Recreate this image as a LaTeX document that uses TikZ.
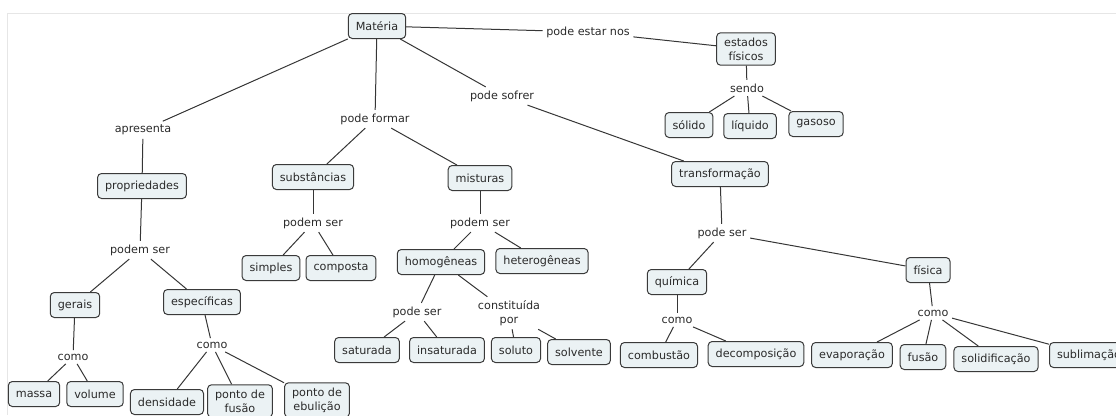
\documentclass[tikz,border=0pt]{standalone}
\usepackage{fontspec}
\setmainfont{DejaVu Sans}
\usetikzlibrary{positioning}
\definecolor{boxfill}{HTML}{EBF2F4}
\definecolor{boxline}{HTML}{3A3A3A}
\definecolor{linkline}{HTML}{363636}
\definecolor{textgray}{HTML}{2A2A2A}
\definecolor{framegray}{HTML}{E6E6E6}
\newcommand{\mapfont}{\fontsize{11.2}{13.8}\selectfont}
\tikzset{
  concept/.style={draw=boxline,fill=boxfill,line width=1pt,rounded corners=4pt,
                  inner xsep=7.5pt,inner ysep=5pt,minimum height=25pt,
                  align=center,font=\mapfont,text=textgray},
  linkword/.style={inner sep=3.5pt,align=center,font=\mapfont,text=textgray},
  link/.style={draw=linkline,line width=1pt}
}

\begin{document}
\begin{tikzpicture}[x=1pt,y=-1pt]
  \useasboundingbox (0,0) rectangle (1116,415);
  \draw[framegray,line width=0.8pt] (1116,13) -- (7,13) -- (7,415);

  % top level
  \node[concept] (mat) at (377,26) {Matéria};
  \node[linkword] (apr) at (143,130) {apresenta};
  \node[linkword] (pfo) at (375,119) {pode formar};
  \node[linkword] (pso) at (502,96) {pode sofrer};
  \node[linkword] (pen) at (588,32) {pode estar nos};

  % estados fisicos
  \node[concept] (est) at (746,49) {estados\\físicos};
  \node[linkword] (sen) at (747,88) {sendo};
  \node[concept] (sol) at (689,125) {sólido};
  \node[concept] (liq) at (750,126) {líquido};
  \node[concept] (gas) at (816,124) {gasoso};

  % propriedades
  \node[concept] (pro) at (142,186) {propriedades};
  \node[linkword] (pse1) at (140,250) {podem ser};
  \node[concept] (ger) at (75,305) {gerais};
  \node[concept] (esp) at (202,302) {específicas};
  \node[linkword] (com1) at (73,357) {como};
  \node[concept] (mas) at (34,394) {massa};
  \node[concept] (vol) at (95,394) {volume};
  \node[linkword] (com2) at (212,345) {como};
  \node[concept] (den) at (167,402) {densidade};
  \node[concept] (pfu) at (240,401) {ponto de\\fusão};
  \node[concept] (peb) at (317,400) {ponto de\\ebulição};

  % substancias
  \node[concept] (sub) at (313,177) {substâncias};
  \node[linkword] (pse2) at (313,223) {podem ser};
  \node[concept] (sim) at (271,268) {simples};
  \node[concept] (cmp) at (341,268) {composta};

  % misturas
  \node[concept] (mis) at (480,178) {misturas};
  \node[linkword] (pse3) at (480,223) {podem ser};
  \node[concept] (hom) at (441,262) {homogêneas};
  \node[concept] (het) at (542,261) {heterogêneas};
  \node[linkword] (pse4) at (417,312) {pode ser};
  \node[linkword] (cpo) at (509,313) {constituída\\por};
  \node[concept] (sat) at (367,350) {saturada};
  \node[concept] (ins) at (447,350) {insaturada};
  \node[concept] (slu) at (516,350) {soluto};
  \node[concept] (slv) at (579,352) {solvente};

  % transformacao
  \node[concept] (tra) at (720,174) {transformação};
  \node[linkword] (pse5) at (722,233) {pode ser};
  \node[concept] (qui) at (677,282) {química};
  \node[concept] (fis) at (928,270) {física};
  \node[linkword] (com3) at (677,320) {como};
  \node[concept] (cbs) at (659,355) {combustão};
  \node[concept] (dec) at (756,354) {decomposição};
  \node[linkword] (com4) at (933,313) {como};
  \node[concept] (eva) at (852,355) {evaporação};
  \node[concept] (fus) at (923,357) {fusão};
  \node[concept] (sdf) at (996,359) {solidificação};
  \node[concept] (sbl) at (1089,355) {sublimação};

  % connectors
  \draw[link] (mat) -- (apr); \draw[link] (apr) -- (pro);
  \draw[link] (mat) -- (pfo); \draw[link] (pfo) -- (sub); \draw[link] (pfo) -- (mis);
  \draw[link] (mat) -- (pso); \draw[link] (pso) -- (tra);
  \draw[link] (mat) -- (pen); \draw[link] (pen) -- (est);
  \draw[link] (est) -- (sen); \draw[link] (sen) -- (sol);
  \draw[link] (sen) -- (liq); \draw[link] (sen) -- (gas);

  \draw[link] (pro) -- (pse1); \draw[link] (pse1) -- (ger); \draw[link] (pse1) -- (esp);
  \draw[link] (ger) -- (com1); \draw[link] (com1) -- (mas); \draw[link] (com1) -- (vol);
  \draw[link] (esp) -- (com2); \draw[link] (com2) -- (den);
  \draw[link] (com2) -- (pfu); \draw[link] (com2) -- (peb);

  \draw[link] (sub) -- (pse2); \draw[link] (pse2) -- (sim); \draw[link] (pse2) -- (cmp);
  \draw[link] (mis) -- (pse3); \draw[link] (pse3) -- (hom); \draw[link] (pse3) -- (het);
  \draw[link] (hom) -- (pse4); \draw[link] (pse4) -- (sat); \draw[link] (pse4) -- (ins);
  \draw[link] (hom) -- (cpo); \draw[link] (cpo) -- (slu); \draw[link] (cpo) -- (slv);

  \draw[link] (tra) -- (pse5); \draw[link] (pse5) -- (qui); \draw[link] (pse5) -- (fis);
  \draw[link] (qui) -- (com3); \draw[link] (com3) -- (cbs); \draw[link] (com3) -- (dec);
  \draw[link] (fis) -- (com4); \draw[link] (com4) -- (eva); \draw[link] (com4) -- (fus);
  \draw[link] (com4) -- (sdf); \draw[link] (com4) -- (sbl);
\end{tikzpicture}
\end{document}
